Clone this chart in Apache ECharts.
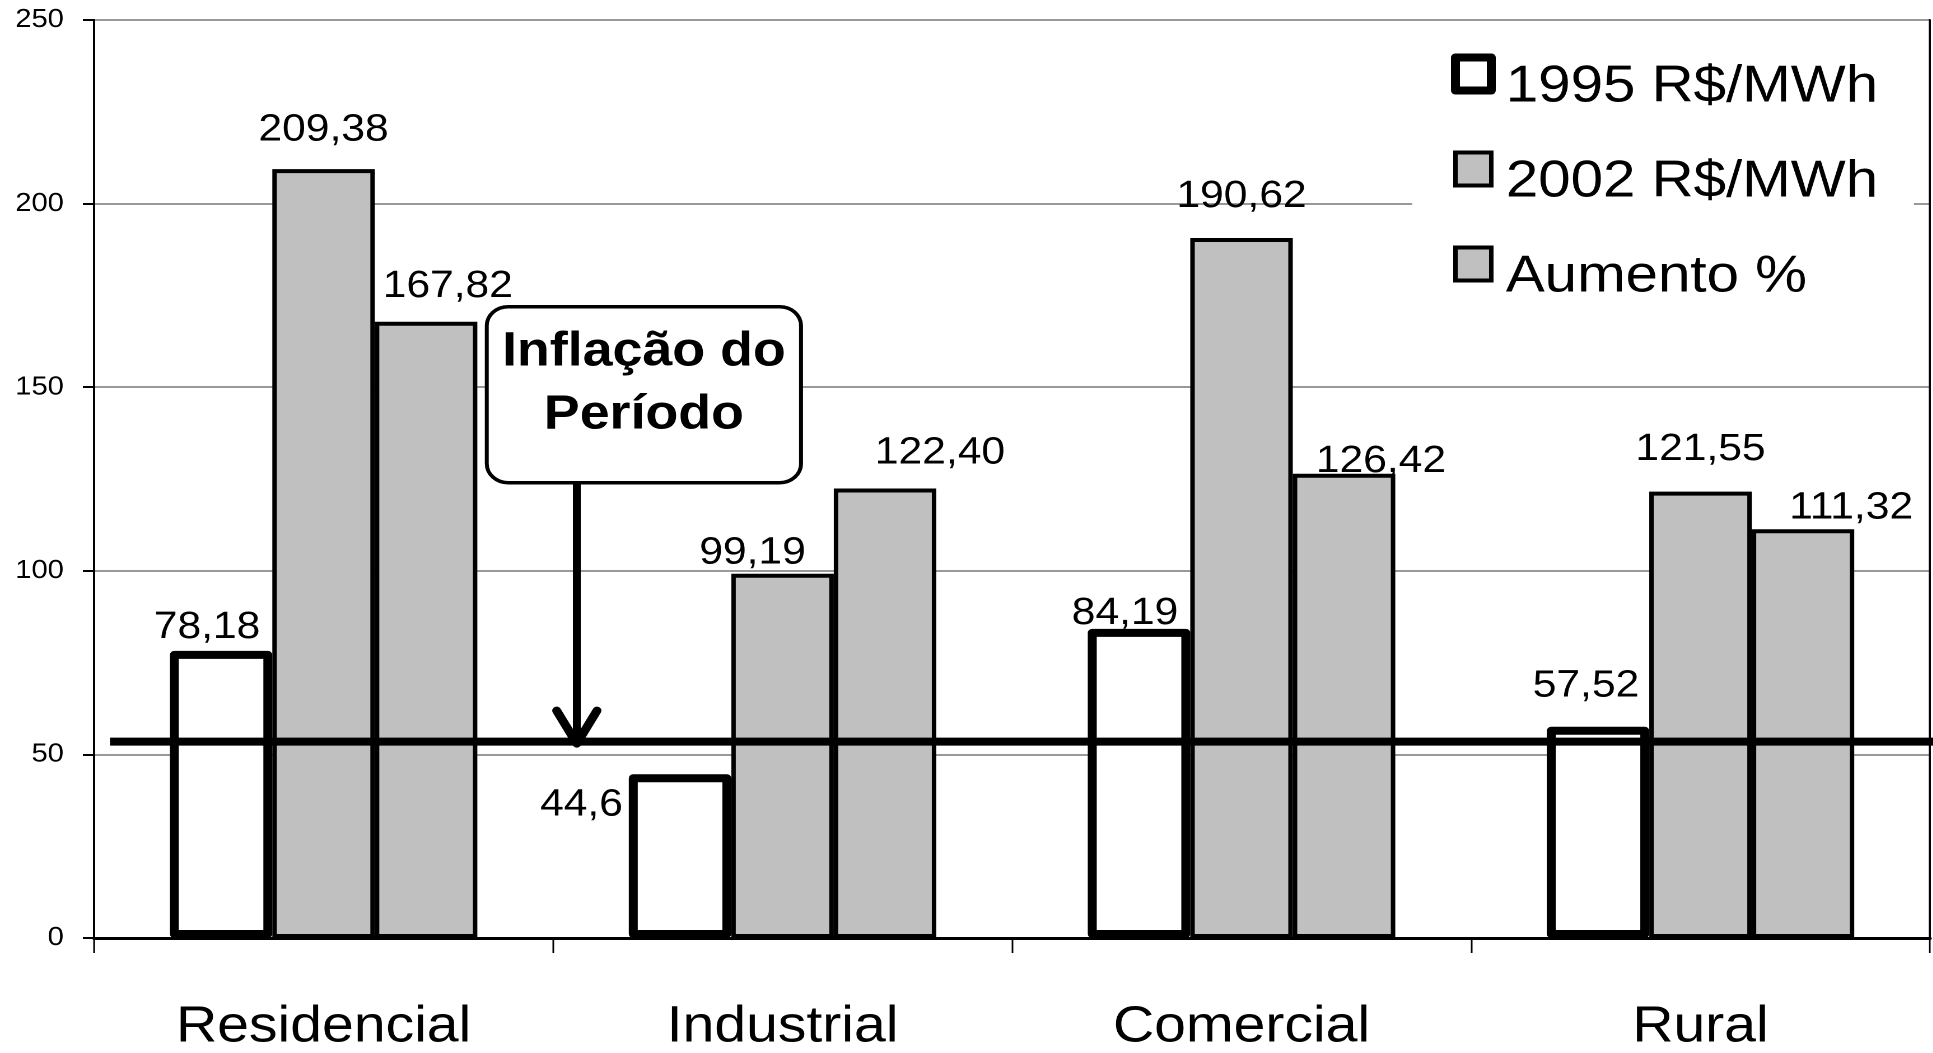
<!DOCTYPE html>
<html>
<head>
<meta charset="utf-8">
<script src="https://cdn.jsdelivr.net/npm/echarts@6/dist/echarts.min.js"></script>
<style>
  html, body { margin: 0; padding: 0; background: #fff; overflow: hidden; }
  #wrap { width: 1933px; height: 1053px; overflow: hidden; }
  /* chart laid out narrower, then widened so the Arial-style type gets its broad look */
  #chart { width: 1726px; height: 1053px; transform: scaleX(1.12); transform-origin: 0 0; }
</style>
</head>
<body>
<div id="wrap"><div id="chart"></div></div>
<script>
// ---- data ----
const categorias = ['Residencial', 'Industrial', 'Comercial', 'Rural'];
const tarifa1995 = [78.18, 44.6, 84.19, 57.52];      // R$/MWh
const tarifa2002 = [209.38, 99.19, 190.62, 121.55];  // R$/MWh
const aumentoPct = [167.82, 122.40, 126.42, 111.32]; // %
const inflacaoPeriodo = 53.48;                       // %
const eixoY = { min: 0, max: 250, interval: 50 };

// ---- hand-placed value labels: [dx, dy] nudges per bar ----
const ajuste1995 = [[-12.5, -4.5], [-88, 50], [-12.5, 3.5], [-10.7, -22]];
const ajuste2002 = [[0, -20], [-26.8, -2], [0, -22.5], [0, -23]];
const ajusteAum  = [[19.4, -16], [49, -16.5], [33, 6.5], [43, -2]];

const FONT = '"Liberation Sans", Arial, sans-serif';
const SX = 1.12; // horizontal widening applied to the canvas

const geral = p => String(p.value).replace('.', ',');
const fixo2 = p => p.value.toFixed(2).replace('.', ',');

function pontos(vals, ajustes) {
  return vals.map((v, i) => ({ value: v, label: { offset: ajustes[i] } }));
}

const rotulo = (fmt) => ({
  show: true, position: 'top', distance: 0, formatter: fmt,
  color: '#000', fontFamily: FONT, fontSize: 38
});

const chart = echarts.init(document.getElementById('chart'), null, { renderer: 'canvas', devicePixelRatio: 2 });

chart.setOption({
  backgroundColor: '#fff',
  animation: false,
  grid: { left: 84, right: 2.8, top: 20, bottom: 114.7, containLabel: false },
  legend: {
    orient: 'vertical', left: 1261, top: 25,
    padding: [10, 32, 10, 34.5],
    backgroundColor: '#fff',
    itemWidth: 32, itemHeight: 33, itemGap: 17,
    selectedMode: false,
    formatter: '{t|{name}}',
    textStyle: {
      fontFamily: FONT, fontSize: 52, color: '#000',
      rich: { t: { fontFamily: FONT, fontSize: 52, lineHeight: 52, color: '#000', padding: [26, 0, 0, 8] } }
    },
    data: [
      { name: '1995 R$/MWh', icon: 'rect', itemStyle: { color: '#fff', borderColor: '#000', borderWidth: 8, borderJoin: 'round' } },
      { name: '2002 R$/MWh', icon: 'rect', itemStyle: { color: '#c0c0c0', borderColor: '#000', borderWidth: 4 } },
      { name: 'Aumento %', icon: 'rect', itemStyle: { color: '#c0c0c0', borderColor: '#000', borderWidth: 4 } }
    ]
  },
  xAxis: {
    type: 'category', data: categorias, boundaryGap: true,
    axisLine: { show: true, lineStyle: { color: '#000', width: 3 } },
    axisTick: { show: true, inside: false, length: 15, alignWithLabel: false, lineStyle: { color: '#000', width: 1.5 } },
    axisLabel: { margin: 64, fontFamily: FONT, fontSize: 51, color: '#000' },
    splitLine: { show: false }
  },
  yAxis: [
    {
      type: 'value', min: eixoY.min, max: eixoY.max, interval: eixoY.interval,
      axisLine: { show: true, lineStyle: { color: '#000', width: 2 } },
      axisTick: { show: true, inside: false, length: 10, lineStyle: { color: '#000', width: 2 } },
      axisLabel: { margin: 27, fontFamily: FONT, fontSize: 26, color: '#000' },
      splitLine: { show: true, lineStyle: { color: '#999', width: 2 } }
    },
    {
      type: 'value', position: 'right', min: eixoY.min, max: eixoY.max, interval: eixoY.interval,
      axisLine: { show: true, lineStyle: { color: '#000', width: 2 } },
      axisTick: { show: false }, axisLabel: { show: false }, splitLine: { show: false }
    }
  ],
  series: [
    {
      name: '1995 R$/MWh', type: 'bar', barGap: '0%', barCategoryGap: '33%',
      itemStyle: { color: '#fff', borderColor: '#000', borderWidth: 8, borderJoin: 'round' },
      label: rotulo(geral),
      data: pontos(tarifa1995, ajuste1995)
    },
    {
      name: '2002 R$/MWh', type: 'bar', barGap: '0%', barCategoryGap: '33%',
      itemStyle: { color: '#c0c0c0', borderColor: '#000', borderWidth: 4 },
      label: rotulo(geral),
      data: pontos(tarifa2002, ajuste2002)
    },
    {
      name: 'Aumento %', type: 'bar', barGap: '0%', barCategoryGap: '33%',
      itemStyle: { color: '#c0c0c0', borderColor: '#000', borderWidth: 4 },
      label: rotulo(fixo2),
      data: pontos(aumentoPct, ajusteAum)
    }
  ]
});

// inflation reference line and its callout
const yInf = chart.convertToPixel({ yAxisIndex: 0 }, inflacaoPeriodo);
const setaX = 515;
const caixa = { x: 434.6, y: 306.7, width: 280.6, height: 176 };
const ponta = yInf + 2;

chart.setOption({
  graphic: [
    {
      type: 'line', z: 50,
      shape: { x1: 110 / SX, y1: yInf, x2: 1726, y2: yInf },
      style: { stroke: '#000', lineWidth: 8 }
    },
    {
      type: 'line', z: 51,
      shape: { x1: setaX, y1: caixa.y + caixa.height, x2: setaX, y2: ponta - 3 },
      style: { stroke: '#000', lineWidth: 7 }
    },
    {
      type: 'polyline', z: 51,
      shape: { points: [[setaX - 18, ponta - 33], [setaX, ponta], [setaX + 18, ponta - 33]] },
      style: { stroke: '#000', lineWidth: 8, fill: null, lineCap: 'round', lineJoin: 'round' }
    },
    {
      type: 'rect', z: 52,
      shape: { x: caixa.x, y: caixa.y, width: caixa.width, height: caixa.height, r: 19 },
      style: { fill: '#fff', stroke: '#000', lineWidth: 3.5 }
    },
    {
      type: 'text', z: 53,
      x: caixa.x + caixa.width / 2, y: 384,
      style: {
        text: 'Inflação do\nPeríodo', fill: '#000',
        font: 'bold 48px ' + FONT, lineHeight: 63,
        align: 'center', verticalAlign: 'middle'
      }
    }
  ]
});
</script>
</body>
</html>
